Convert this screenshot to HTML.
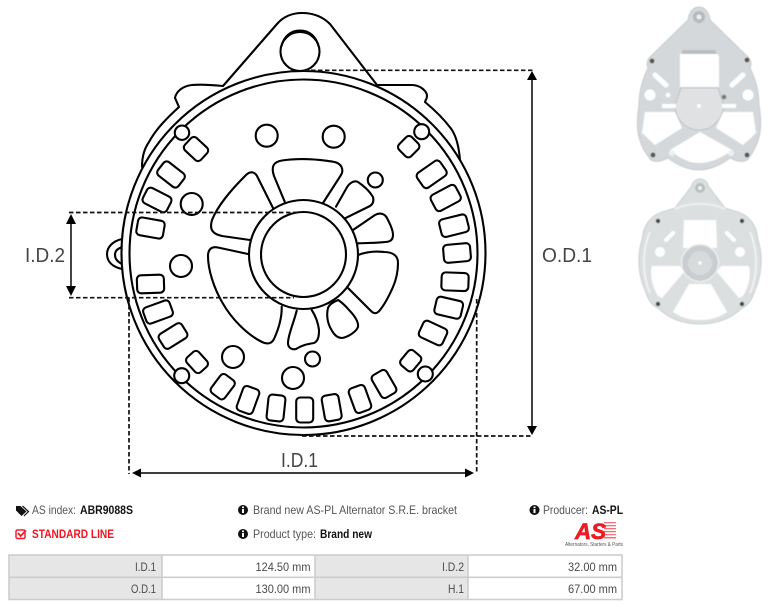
<!DOCTYPE html>
<html><head><meta charset="utf-8"><title>ABR9088S</title>
<style>
html,body{margin:0;padding:0;background:#fff;width:769px;height:608px;overflow:hidden}
svg{display:block}
text{font-family:"Liberation Sans",sans-serif}
.t{font-size:12px;fill:#555}
.b{font-size:12px;fill:#111;font-weight:bold}
.c{font-size:12px;fill:#4a4a4a;text-anchor:end}
.dim{font-size:20px;fill:#444;font-weight:normal}
</style></head><body>
<svg width="769" height="608" viewBox="0 0 769 608" xmlns="http://www.w3.org/2000/svg">
<defs><filter id="bl" x="-5%" y="-5%" width="110%" height="110%"><feGaussianBlur stdDeviation="0.6"/></filter></defs>

<!-- housing outline -->
<g fill="none" stroke="#000" stroke-width="2.1" stroke-linejoin="round" stroke-linecap="round">
<path d="M142,167 C142,158 144,149 149,142 C156,129 167,118 179,107 L175,98 C176,92 182,86 192,85 C202,84 213,85 223,86 L277,24 C283,17 292,13 302,13 C313,13 322,16 330,24 L377,85 L412,85 C420,85 427,91 427,96 C427,99 425,101 425,102 C437,112 447,123 452,130 C457,138 459,148 460,160"/>
<path d="M122,239 C113,241 107,247 107,254 C107,262 113,267 122,269"/>
<path d="M122,247 C117,249 115,251 115,255 C115,259 118,262 122,264"/>
<circle cx="303.5" cy="253" r="182" fill="#fff"/>
<circle cx="303.5" cy="253.5" r="174"/>
<circle cx="300" cy="51.5" r="19.5" fill="#fff"/>
<path d="M281.5,46 C284,36 291,30.5 300,30.5 C309,30.5 316,36 318.5,46"/>

<!-- hub -->
<circle cx="303.5" cy="254.5" r="54.5"/>
<circle cx="303.5" cy="254.5" r="42.5"/>

<!-- vents -->
<path d="M284.7,201.7 L274,176 C271,167 273,162 282,160.5 C298,158 318,159 333,161.7 C342,163 344,170 341,175 L323,203"/>
<path d="M273,208 L258,178 C255,171 250,171 246,175 C231,190 218,205 212,220 C209,230 213,234 222,236 L250,240"/>
<path d="M248,254 L218,247.5 C211,246 208,250 208,256 C208,270 214,288 222,302 C232,320 248,335 262,342 C268,345 272,343 274,339 C279,328 282,318 281.7,306.7"/>
<path d="M296.7,310.7 C293,325 288,335 288,343 C288,348 292,350 296,349 C302,345 308,344 314,343 C318,341 319,337 319,330 C318,322 315,315 311.7,310"/>
<path d="M338.3,300 C333,302 329,305 328,308 C326,316 328,324 331,329 C334,335 338,338 342,338 C348,337 356,332 358,327 C359,322 354,315 349,310 C345,305 341,302 338.3,300Z"/>
<path d="M358,255 C366,252 376,251 384,252 C393,252 398,256 398,263 C398,272 396,280 393,287 C389,296 385,304 380,310 C377,314 374,314 371,311 L348,288"/>
<path d="M353,230 L375,215 C380,212 385,214 387,218 C390,224 393,230 393,235 C393,240 390,242 385,242 C376,243 367,243 358,243.3"/>
<path d="M336,206.7 L346,189 C349,183 354,180 358,182 C364,186 370,192 373,197 C374,201 373,204 370,206 L345,218.3"/>

<!-- slots -->
<rect x="-11" y="-8.5" width="22" height="17" rx="4" transform="translate(196 149) rotate(43)"/>
<rect x="-13" y="-8.5" width="26" height="17" rx="4" transform="translate(171 174.5) rotate(38)"/>
<rect x="-13.5" y="-8.5" width="27" height="17" rx="4" transform="translate(157 200) rotate(27)"/>
<rect x="-13.5" y="-9" width="27" height="18" rx="4" transform="translate(150.5 228) rotate(10)"/>
<rect x="-13.5" y="-9" width="27" height="18" rx="4" transform="translate(150.5 284) rotate(-2)"/>
<rect x="-14" y="-8.5" width="28" height="17" rx="4" transform="translate(158 312) rotate(-20)"/>
<rect x="-13.5" y="-8.5" width="27" height="17" rx="4" transform="translate(173 336) rotate(-32)"/>
<rect x="-10" y="-8" width="20" height="16" rx="4" transform="translate(197 362) rotate(48)"/>
<rect x="-8.5" y="-11.5" width="17" height="23" rx="4" transform="translate(222.7 386.7) rotate(37)"/>
<rect x="-8.5" y="-13" width="17" height="26" rx="4" transform="translate(248 400) rotate(20)"/>
<rect x="-8.5" y="-13" width="17" height="26" rx="4" transform="translate(276 408) rotate(6)"/>
<rect x="-8.5" y="-12.5" width="17" height="25" rx="4" transform="translate(304.7 410)"/>
<rect x="-8.5" y="-13" width="17" height="26" rx="4" transform="translate(331.7 407.7) rotate(-10)"/>
<rect x="-8.5" y="-13" width="17" height="26" rx="4" transform="translate(360 399) rotate(-20)"/>
<rect x="-8.5" y="-13" width="17" height="26" rx="4" transform="translate(384 384) rotate(-30)"/>
<rect x="-8" y="-9.5" width="16" height="19" rx="4" transform="translate(410.7 360.7) rotate(40)"/>
<rect x="-13" y="-9" width="26" height="18" rx="4" transform="translate(433 333) rotate(25)"/>
<rect x="-13.5" y="-9" width="27" height="18" rx="4" transform="translate(448.7 307.7) rotate(13)"/>
<rect x="-13.5" y="-9" width="27" height="18" rx="4" transform="translate(455 281.7) rotate(2)"/>
<rect x="-13.5" y="-9" width="27" height="18" rx="4" transform="translate(457 253) rotate(-5)"/>
<rect x="-14" y="-9" width="28" height="18" rx="4" transform="translate(454 225.7) rotate(-14)"/>
<rect x="-14" y="-9" width="28" height="18" rx="4" transform="translate(445.7 198) rotate(-28)"/>
<rect x="-14" y="-9" width="28" height="18" rx="4" transform="translate(431.7 174.3) rotate(-35)"/>
<rect x="-9" y="-8.5" width="18" height="17" rx="4" transform="translate(408.7 146.7) rotate(-45)"/>

<!-- holes -->
<circle cx="182" cy="132.7" r="7.2" fill="#fff"/>
<circle cx="421.7" cy="131.7" r="7.5" fill="#fff"/>
<circle cx="425.3" cy="374" r="7.5" fill="#fff"/>
<circle cx="181.7" cy="375.7" r="7.5" fill="#fff"/>
<circle cx="266.7" cy="135.7" r="11"/>
<circle cx="333.7" cy="136.7" r="11"/>
<circle cx="191.7" cy="204" r="11"/>
<circle cx="375.3" cy="180" r="7.5"/>
<circle cx="181" cy="266" r="11"/>
<circle cx="233" cy="357" r="11"/>
<circle cx="293" cy="378" r="11"/>
<circle cx="312.5" cy="359" r="7.5"/>
</g>

<!-- dimension dashes -->
<g fill="none" stroke="#111" stroke-width="1.7" stroke-dasharray="4.5 2.5">
<path d="M304,70.3 H533"/>
<path d="M302,436 H533"/>
<path d="M69,212.5 H300"/>
<path d="M69,297.7 H294"/>
<path d="M129,298 V474"/>
<path d="M476.7,299 V474"/>
</g>

<!-- dimension arrows -->
<g stroke="#222" stroke-width="1.7" fill="none">
<path d="M532,78 V428"/>
<path d="M71,222 V288"/>
<path d="M140,473 H466"/>
</g>
<g fill="#000">
<path d="M532,71 L537,80 H527Z"/>
<path d="M532,435 L537,426 H527Z"/>
<path d="M71,214 L76,224 H66Z"/>
<path d="M71,296 L76,286 H66Z"/>
<path d="M132,473 L141,468.5 V477.5Z"/>
<path d="M474,473 L465,468.5 V477.5Z"/>
</g>
<text class="dim" x="25" y="262" textLength="40" lengthAdjust="spacingAndGlyphs">I.D.2</text>
<text class="dim" x="542" y="262" textLength="50" lengthAdjust="spacingAndGlyphs">O.D.1</text>
<text class="dim" x="281" y="467" textLength="37" lengthAdjust="spacingAndGlyphs">I.D.1</text>

<!-- photo 1 -->
<g filter="url(#bl)">
<path d="M699,7 C693,7 689,12 688,20 L652,55 C647,59 646,64 648,68 C642,80 639,93 639,105 C637,117 637,125 638,133 C640,143 645,153 651,160 C656,163 662,161 668,158 C678,166 690,170 699,170 C708,170 720,166 730,158 C736,161 742,163 747,160 C753,153 758,143 760,133 C761,125 761,117 759,105 C759,93 756,80 750,68 C752,64 751,59 746,55 L710,20 C709,12 705,7 699,7Z" fill="#d5d8da" stroke="#bfc3c6" stroke-width=".8"/>
<circle cx="699" cy="17" r="6" fill="#b4babd"/><circle cx="699" cy="17" r="2.5" fill="#eef0f1"/>
<path d="M680,54 L716,54 C718,54 719,56 719,58 V87 H680 V58Z" fill="#fff"/>
<path d="M682,50 H716 V54 H682Z" fill="#b9bdc0"/>
<path d="M645,112 H675 L682,128 L655,145 L642,133Z" fill="#fff"/>
<path d="M753,112 H723 L716,128 L743,145 L756,133Z" fill="#fff"/>
<path d="M670,150 L700,132 L732,150 C722,158 710,163 699,163 C689,163 679,158 670,150Z" fill="#fff"/>
<path d="M681,88 H718 L724,106 C722,120 712,130 699,130 C686,130 676,120 675,106Z" fill="#dfe1e3" stroke="#b8bcbf" stroke-width=".8"/>
<rect x="662" y="104" width="14" height="4" fill="#fff"/><rect x="722" y="104" width="14" height="4" fill="#fff"/>
<circle cx="650" cy="95" r="5.5" fill="#fff"/><circle cx="748" cy="95" r="5.5" fill="#fff"/>
<path d="M655,75 L666,85" stroke="#fff" stroke-width="5" stroke-linecap="round"/>
<path d="M743,75 L732,85" stroke="#fff" stroke-width="5" stroke-linecap="round"/>
<circle cx="668" cy="95" r="2.3" fill="#fff"/><circle cx="699" cy="106" r="2" fill="#fff"/><circle cx="724" cy="97" r="2.3" fill="#777"/>
<circle cx="652" cy="61" r="2.4" fill="#555"/><circle cx="747" cy="60" r="2.4" fill="#555"/>
<circle cx="653" cy="155" r="2.4" fill="#555"/><circle cx="747" cy="155" r="2.4" fill="#555"/>
<circle cx="672" cy="153" r="3" fill="#eef0f1"/><circle cx="731" cy="153" r="3" fill="#eef0f1"/>
</g>

<!-- photo 2 -->
<g filter="url(#bl)">
<path d="M700,179 C695,179 693,182 691,187 L675,208 L662,212 C650,216 643,226 642,240 C637,255 638,275 645,290 C648,300 652,306 658,308 C670,320 685,324 700,324 C715,324 730,320 742,308 C748,306 752,300 755,290 C762,275 763,255 758,240 C757,226 750,216 738,212 L725,208 L709,187 C707,182 705,179 700,179Z" fill="#dcdfe0" stroke="#c4c8ca" stroke-width=".8"/>
<circle cx="700" cy="188" r="5" fill="#b8bdc0"/><circle cx="700" cy="188" r="2" fill="#f0f1f2"/>
<path d="M684,220 H716 L717,248 H683Z" fill="#fff"/>
<path d="M651.7,266 H680 L684,272 L662,298 L658,296 C652,286 650,276 651.7,266Z" fill="#fff"/>
<path d="M749,266 H721 L717,272 L739,298 L743,296 C749,286 751,276 749,266Z" fill="#fff"/>
<path d="M673,312 L689,284 H711 L727,312 C716,319 708,320 700,320 C692,320 684,319 673,312Z" fill="#fff"/>
<path d="M650,232 C642,250 642,275 650,293 M750,232 C758,250 758,275 750,293" fill="none" stroke="#f0f1f2" stroke-width="2"/>
<path d="M675,209 C690,202 710,202 725,209" fill="none" stroke="#eef0f1" stroke-width="2"/>
<circle cx="700" cy="263" r="18.5" fill="#c9cdd0" stroke="#eceeef" stroke-width="1.5"/>
<circle cx="700" cy="263" r="12" fill="#d8dbdc"/>
<circle cx="700" cy="263" r="1.6" fill="#fff"/>
<circle cx="660" cy="252" r="5" fill="#fff"/><circle cx="740" cy="252" r="5" fill="#fff"/>
<path d="M666,240 L673,233" stroke="#fff" stroke-width="4" stroke-linecap="round"/>
<path d="M734,240 L727,233" stroke="#fff" stroke-width="4" stroke-linecap="round"/>
<circle cx="658" cy="221" r="2.2" fill="#444"/><circle cx="742" cy="221" r="2.2" fill="#444"/>
<circle cx="658" cy="304" r="2.2" fill="#444"/><circle cx="742" cy="304" r="2.2" fill="#444"/>
</g>

<!-- info row -->
<path d="M16,506 H20.5 L26.5,511.5 L21.5,516 L16,510.5Z" fill="#111"/><path d="M22.5,506 L28.5,511.5 L24,516" fill="none" stroke="#111" stroke-width="1.2"/>
<text class="t" x="32" y="514" textLength="44" lengthAdjust="spacingAndGlyphs">AS index:</text>
<text class="b" x="80" y="514" textLength="53" lengthAdjust="spacingAndGlyphs">ABR9088S</text>
<rect x="16" y="530" width="9" height="8.5" rx="1.5" fill="none" stroke="#f02030" stroke-width="1.5"/>
<path d="M18,533 L20.5,536 L26,530.5" fill="none" stroke="#f02030" stroke-width="1.8"/>
<text x="32" y="538" font-size="12" font-weight="bold" fill="#f5121f" textLength="82" lengthAdjust="spacingAndGlyphs">STANDARD LINE</text>

<circle cx="243" cy="510" r="5" fill="#111"/><rect x="242" y="509" width="2" height="4" fill="#fff"/><rect x="242" y="506.5" width="2" height="1.6" fill="#fff"/>
<text class="t" x="253" y="514" textLength="204" lengthAdjust="spacingAndGlyphs">Brand new AS-PL Alternator S.R.E. bracket</text>
<circle cx="243" cy="534" r="5" fill="#111"/><rect x="242" y="533" width="2" height="4" fill="#fff"/><rect x="242" y="530.5" width="2" height="1.6" fill="#fff"/>
<text class="t" x="253" y="538" textLength="63" lengthAdjust="spacingAndGlyphs">Product type:</text>
<text class="b" x="320" y="538" textLength="52" lengthAdjust="spacingAndGlyphs">Brand new</text>
<circle cx="534.5" cy="510" r="5" fill="#111"/><rect x="533.5" y="509" width="2" height="4" fill="#fff"/><rect x="533.5" y="506.5" width="2" height="1.6" fill="#fff"/>
<text class="t" x="543" y="514" textLength="45" lengthAdjust="spacingAndGlyphs">Producer:</text>
<text class="b" x="592" y="514" textLength="31" lengthAdjust="spacingAndGlyphs">AS-PL</text>

<!-- logo -->
<g fill="#f4707a">
<rect x="604" y="522" width="12" height="1.3"/><rect x="604" y="525" width="12" height="1.3"/><rect x="604" y="528" width="12" height="1.3"/><rect x="604" y="531" width="12" height="1.3"/><rect x="604" y="534" width="12" height="1.3"/><rect x="604" y="537" width="12" height="1.5"/>
</g>
<text x="575" y="539" font-size="22" font-weight="bold" font-style="italic" fill="#ed1c24" stroke="#ed1c24" stroke-width=".7" textLength="31" lengthAdjust="spacingAndGlyphs">AS</text>
<text x="565" y="546" font-size="5" fill="#555" textLength="58" lengthAdjust="spacingAndGlyphs">Alternators, Starters &amp; Parts</text>

<!-- table -->
<rect x="9" y="555" width="613" height="44.5" fill="#fff"/>
<rect x="9" y="555" width="153" height="44.5" fill="#e6e6e6"/>
<rect x="315" y="555" width="153" height="44.5" fill="#e6e6e6"/>
<g fill="none" stroke="#cdcdcd" stroke-width="1.6">
<rect x="9" y="555" width="613" height="44.5"/>
<path d="M9,577.3 H622 M162,555 V599.5 M315,555 V599.5 M468,555 V599.5"/>
</g>
<text class="c" x="156" y="571" textLength="21" lengthAdjust="spacingAndGlyphs">I.D.1</text>
<text class="c" x="310.5" y="571" textLength="55" lengthAdjust="spacingAndGlyphs">124.50 mm</text>
<text class="c" x="464" y="571" textLength="22" lengthAdjust="spacingAndGlyphs">I.D.2</text>
<text class="c" x="617" y="571" textLength="49" lengthAdjust="spacingAndGlyphs">32.00 mm</text>
<text class="c" x="156" y="593" textLength="25" lengthAdjust="spacingAndGlyphs">O.D.1</text>
<text class="c" x="310.5" y="593" textLength="55" lengthAdjust="spacingAndGlyphs">130.00 mm</text>
<text class="c" x="464" y="593" textLength="16" lengthAdjust="spacingAndGlyphs">H.1</text>
<text class="c" x="617" y="593" textLength="49" lengthAdjust="spacingAndGlyphs">67.00 mm</text>
</svg>
</body></html>
